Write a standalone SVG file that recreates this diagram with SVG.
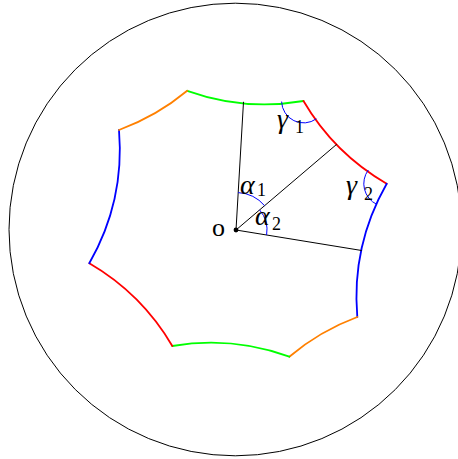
<svg xmlns="http://www.w3.org/2000/svg" width="458" height="459" viewBox="0 0 458 459">
<style>
.thin{fill:none;stroke:#000;stroke-width:1}
.edge{fill:none;stroke-width:1.8;stroke-linecap:round}
.ang{fill:none;stroke:#0000ff;stroke-width:1}
.g{stroke:#00ff00}.r{stroke:#ff0000}.b{stroke:#0000ff}.o{stroke:#ff8000}
.lbl{font-family:"Liberation Serif","Times New Roman",serif;font-size:26px;fill:#000}
.it{font-style:italic;font-size:28px}
.sub{font-size:18px;font-style:normal}
</style>
<rect width="458" height="459" fill="#fff"/>
<g id="disk"><circle class="thin" cx="235.3" cy="229.5" r="226.3"/></g>
<g id="polygon">
<path class="edge g" d="M187.2,90.8 A230,230 0 0 0 303.5,101"/>
<path class="edge r" d="M303.5,101 A230,230 0 0 0 386.7,183.7"/>
<path class="edge b" d="M386.7,183.7 A230,230 0 0 0 357.3,317"/>
<path class="edge o" d="M357.3,317 A230,230 0 0 0 289.3,356.7"/>
<path class="edge g" d="M289.3,356.7 A230,230 0 0 0 172.3,346"/>
<path class="edge r" d="M172.3,346 A230,230 0 0 0 89.3,263.3"/>
<path class="edge b" d="M89.3,263.3 A230,230 0 0 0 119,130"/>
<path class="edge o" d="M119,130 A230,230 0 0 0 187.2,90.8"/>
</g>
<g id="connectors">
<line class="thin" x1="236" y1="230" x2="243.5" y2="101.8"/>
<line class="thin" x1="236" y1="230" x2="336.7" y2="144.3"/>
<line class="thin" x1="236" y1="230" x2="361.7" y2="250.5"/>
</g>
<g id="angles">
<path class="ang" d="M238.2,192.6 A37.5,37.5 0 0 1 264.6,205.7"/>
<path class="ang" d="M259.6,209.9 A31,31 0 0 1 266.6,235"/>
<path class="ang" d="M281.6,101.6 A22,22 0 0 0 316.4,118.8"/>
<path class="ang" d="M368.3,170 A23,23 0 0 0 376.8,204.4"/>
</g>
<g id="origin">
<circle cx="236" cy="230" r="2.4" fill="#000"/>
<text class="lbl" x="212" y="236">o</text>
</g>
<g id="labels">
<text class="lbl" x="240" y="193.5"><tspan class="it">α</tspan><tspan class="sub" x="257" y="196">1</tspan></text>
<text class="lbl" x="255" y="225"><tspan class="it">α</tspan><tspan class="sub" x="272" y="230">2</tspan></text>
<text class="lbl" x="277" y="128"><tspan class="it">γ</tspan><tspan class="sub" x="295" y="133">1</tspan></text>
<text class="lbl" x="346" y="194"><tspan class="it">γ</tspan><tspan class="sub" x="364" y="200">2</tspan></text>
</g>
</svg>
